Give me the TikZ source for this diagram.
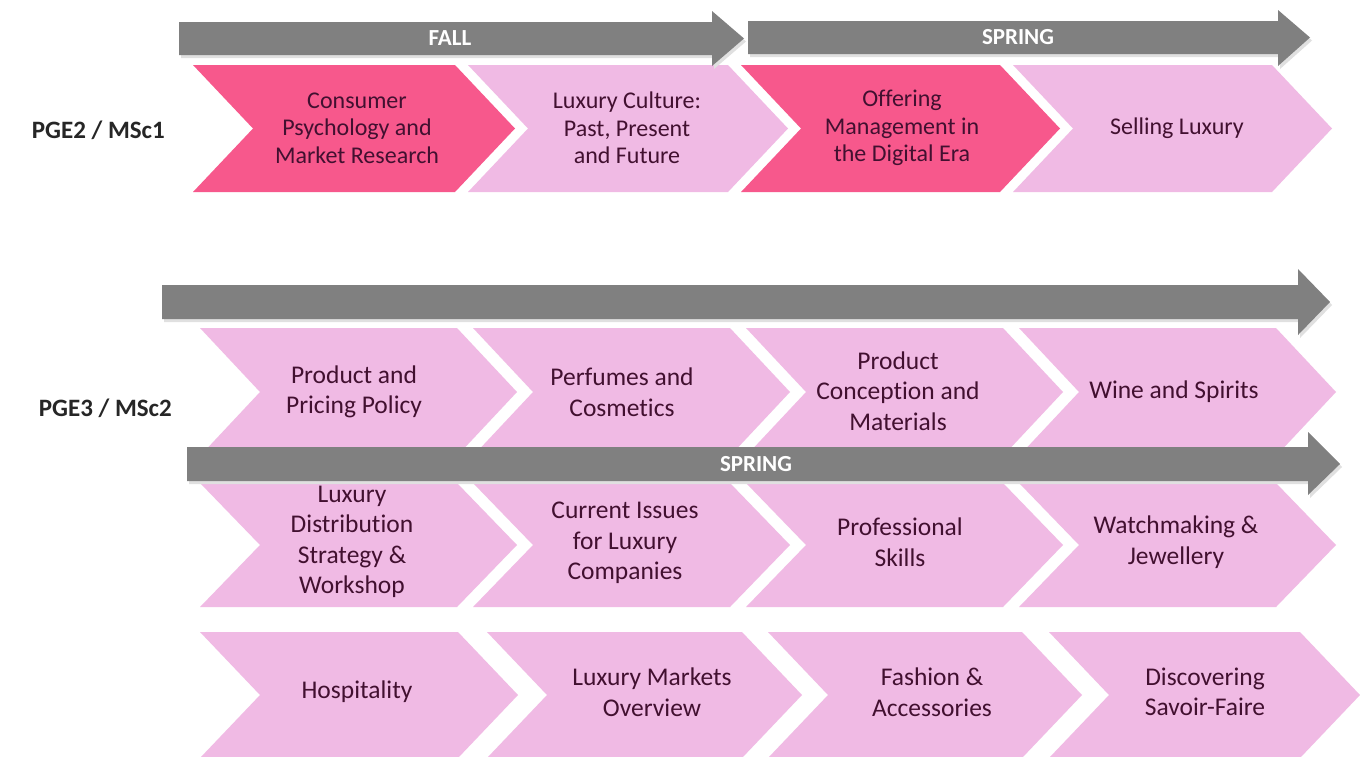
\documentclass[tikz,border=0pt]{standalone}
\usepackage{fontspec}
\setmainfont{Carlito}[Ligatures={NoCommon}]
\definecolor{hotpink}{RGB}{247,88,140}
\definecolor{lightpink}{RGB}{240,186,228}
\definecolor{txt}{RGB}{66,16,48}
\definecolor{arrowgray}{RGB}{128,128,128}
\newcommand{\chevfill}[6]{\fill[#6] (#1,#2) -- (#4,#2) -- ({#4+#5},{(#2+#3)/2}) -- (#4,#3) -- (#1,#3) -- ({#1+#5},{(#2+#3)/2}) -- cycle;}
\newcommand{\grarrow}[7]{%
  \fill[black!12,shift={(2,3)}] (#1,#2) -- (#4,#2) -- (#4,#5) -- (#7,{(#2+#3)/2}) -- (#4,#6) -- (#4,#3) -- (#1,#3) -- cycle;
  \fill[arrowgray] (#1,#2) -- (#4,#2) -- (#4,#5) -- (#7,{(#2+#3)/2}) -- (#4,#6) -- (#4,#3) -- (#1,#3) -- cycle;}
\tikzset{
  toptext/.style={text=txt, align=center, font=\fontsize{24}{27.5}\selectfont, inner sep=0pt},
  lowtext/.style={text=txt, align=center, font=\fontsize{25.5}{30.5}\selectfont, inner sep=0pt},
  rowlabel/.style={text=black!85, font=\bfseries\fontsize{25}{28}\selectfont, anchor=east, inner sep=0pt},
  seasonlabel/.style={text=white, font=\bfseries\fontsize{23}{26}\selectfont, inner sep=0pt},
}
\begin{document}
\begin{tikzpicture}[x=1pt,y=-1pt]
\useasboundingbox[fill=white] (0,0) rectangle (1360,756);
% ---------- top row chevrons ----------
\chevfill{193}{65}{192}{455}{60}{hotpink}
\chevfill{468}{65}{192}{728}{60}{lightpink}
\chevfill{741}{65}{192}{1000}{60}{hotpink}
\chevfill{1013}{65}{192}{1272}{60}{lightpink}
% ---------- top arrows ----------
\grarrow{179}{22}{55}{712}{11}{66}{744}
\grarrow{748}{21}{54}{1278}{10}{66}{1310}
\node[seasonlabel] (fall) at (450,38) {FALL};
\node[seasonlabel] (spring1) at (1018,37) {SPRING};
\node[toptext] (t11) at (357,128) {Consumer\\Psychology and\\Market Research};
\node[toptext] (t12) at (627,128) {Luxury Culture:\\Past, Present\\and Future};
\node[toptext] (t13) at (902,128) {Offering\\Management in\\the Digital Era};
\node[toptext] (t14) at (1177,128) {Selling Luxury};
\node[rowlabel] (pge2) at (165,130) {PGE2 / MSc1};
% ---------- second block ----------
\grarrow{162}{285}{319}{1298}{269}{335}{1330}
\chevfill{200}{328}{456}{457}{60}{lightpink}
\chevfill{473}{328}{456}{730}{60}{lightpink}
\chevfill{746}{328}{456}{1003}{60}{lightpink}
\chevfill{1019}{328}{456}{1276}{60}{lightpink}
\chevfill{200}{483}{607}{457}{60}{lightpink}
\chevfill{473}{483}{607}{730}{60}{lightpink}
\chevfill{746}{483}{607}{1003}{60}{lightpink}
\chevfill{1019}{483}{607}{1276}{60}{lightpink}
\grarrow{187}{447}{481}{1308}{432}{495}{1340}
\node[seasonlabel] (spring2) at (756,464) {SPRING};
\node[rowlabel] (pge3) at (172,408) {PGE3 / MSc2};
\node[lowtext] (t21) at (354,392) {Product and\\Pricing Policy};
\node[lowtext] (t22) at (622,392) {Perfumes and\\Cosmetics};
\node[lowtext] (t23) at (898,391) {Product\\Conception and\\Materials};
\node[lowtext] (t24) at (1174,392) {Wine and Spirits};
\node[lowtext] (t31) at (352,542) {Luxury\\Distribution\\Strategy \&\\Workshop};
\node[lowtext] (t32) at (625,543) {Current Issues\\for Luxury\\Companies};
\node[lowtext] (t33) at (900,542) {Professional\\Skills};
\node[lowtext] (t34) at (1176,542) {Watchmaking \&\\Jewellery};
% ---------- bottom row ----------
\chevfill{200}{632}{758}{458}{60}{lightpink}
\chevfill{487}{632}{758}{742}{60}{lightpink}
\chevfill{768}{632}{758}{1022}{60}{lightpink}
\chevfill{1049}{632}{758}{1300}{60}{lightpink}
\node[lowtext] (t41) at (357,692) {Hospitality};
\node[lowtext] (t42) at (652,692) {Luxury Markets\\Overview};
\node[lowtext] (t43) at (932,692) {Fashion \&\\Accessories};
\node[lowtext] (t44) at (1205,692) {Discovering\\Savoir-Faire};
\end{tikzpicture}
\end{document}
